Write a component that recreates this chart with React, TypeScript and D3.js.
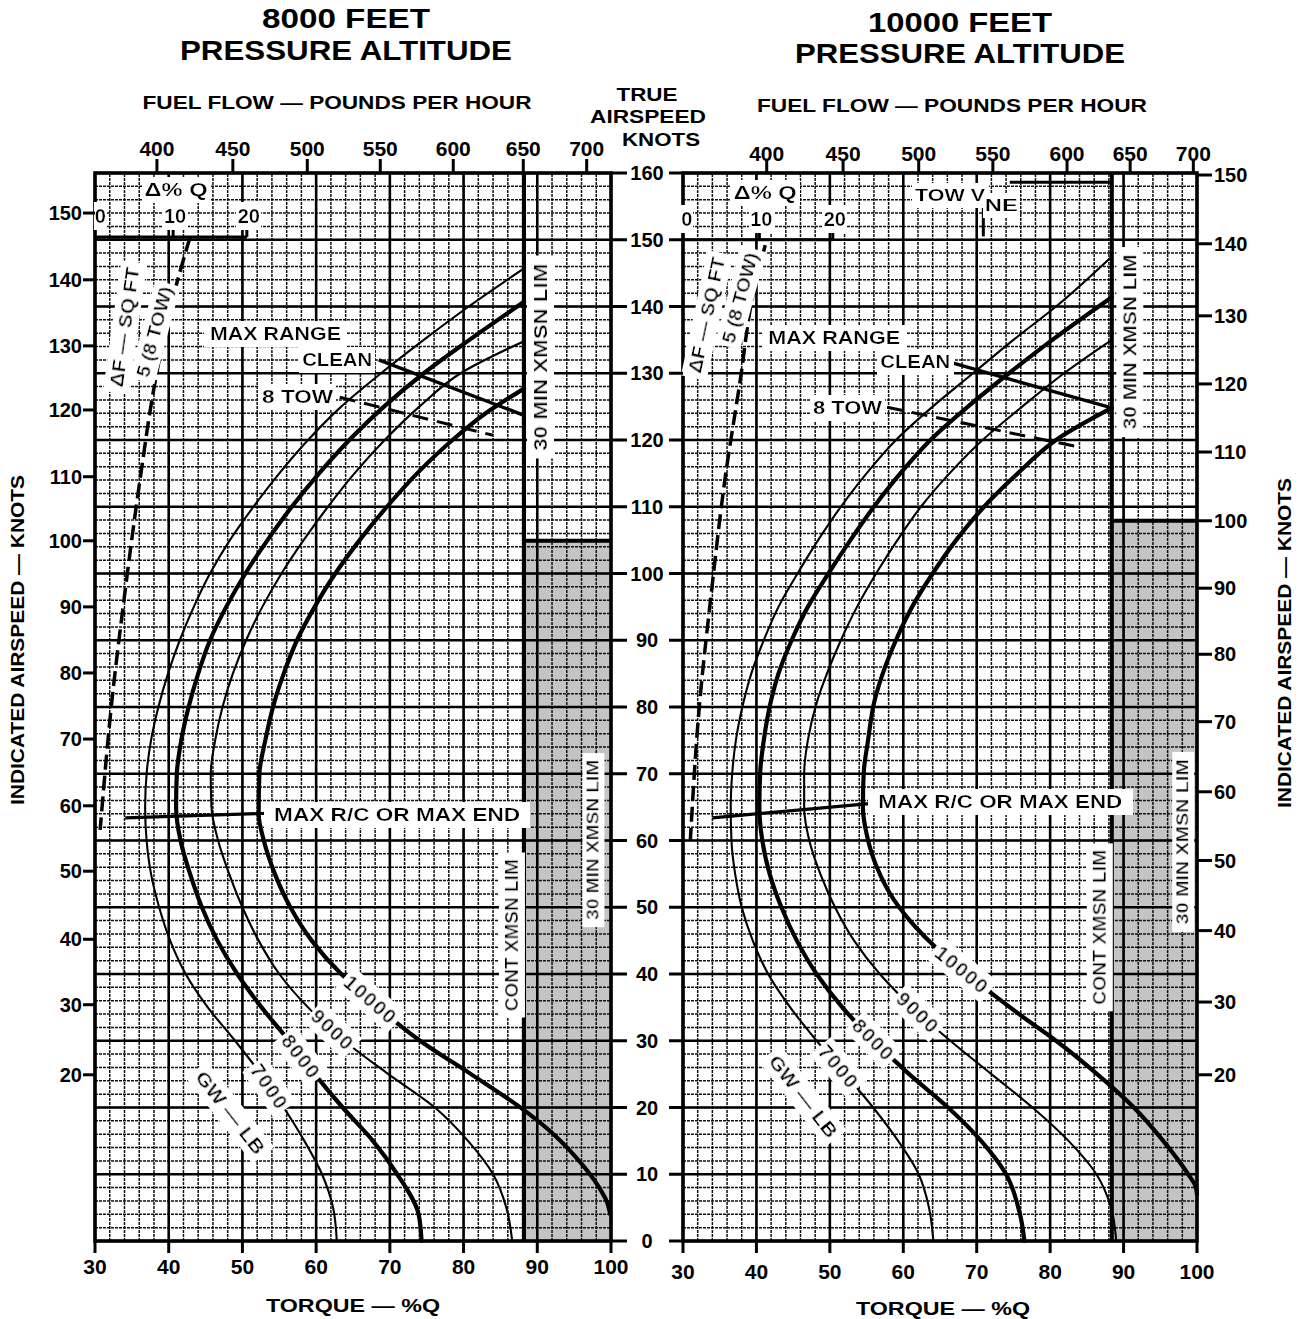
import React from "react";
import * as d3 from "d3";

const FONT = "'Liberation Sans', Arial, Helvetica, sans-serif";

// ---------------- shared axis values ----------------
const tasTicks = [0, 10, 20, 30, 40, 50, 60, 70, 80, 90, 100, 110, 120, 130, 140, 150, 160];
const torqueTicks = [30, 40, 50, 60, 70, 80, 90, 100];
const fuelFlowTicks = [400, 450, 500, 550, 600, 650, 700];
const iasTicks = [20, 30, 40, 50, 60, 70, 80, 90, 100, 110, 120, 130, 140, 150];
const dqTicks = [0, 10, 20];

// ---------------- 8000 ft pressure altitude ----------------
// fuel flow tick -> torque (%Q)
const fuelTorque8000 = [38.4, 48.7, 58.8, 68.7, 78.6, 88.1, 96.7];
// indicated airspeed tick -> true airspeed (kt)
const iasTas8000 = [24.9, 35.4, 45.2, 55.4, 65.2, 75.2, 85.1, 95.0, 104.9, 114.5, 124.5, 134.1, 144.0, 154.0];
// gross weight curves: [true airspeed, torque]
const gw7000At8000 = [[0, 62.8], [5, 62.3], [10, 60.8], [15, 58.4], [20, 55.6], [25, 52.5], [30, 49.0], [35, 45.3], [40, 42.3], [45, 40.2], [50, 38.7], [55, 37.6], [60, 37.0], [65, 36.8], [70, 37.0], [75, 37.6], [80, 38.6], [85, 39.9], [90, 41.5], [95, 43.4], [100, 45.6], [105, 48.3], [110, 51.5], [115, 55.0], [120, 58.9], [125, 63.4], [130, 68.8], [135, 74.6], [140, 80.7], [145.7, 88.2]];
const gw8000At8000 = [[0, 74.3], [4, 73.9], [10, 71.0], [15, 67.7], [20, 63.6], [25, 59.8], [30, 56.3], [35, 52.6], [40, 49.3], [45, 46.6], [50, 44.5], [55, 42.9], [60, 41.6], [65, 41.0], [70, 41.1], [75, 41.7], [80, 42.7], [85, 44.0], [90, 45.6], [95, 47.8], [100, 50.4], [105, 53.4], [110, 56.7], [115, 60.4], [120, 64.5], [125, 69.2], [130, 74.6], [135, 80.8], [140.7, 88.2]];
const gw9000At8000 = [[0, 86.6], [5, 85.8], [10, 84.0], [15, 80.6], [20, 76.1], [25, 69.8], [30, 63.8], [35, 58.9], [40, 55.0], [45, 52.2], [50, 50.0], [55, 48.2], [60, 46.7], [65, 45.8], [70, 45.7], [75, 46.3], [80, 47.3], [85, 48.7], [90, 50.5], [95, 52.7], [100, 55.3], [105, 58.3], [110, 61.6], [115, 65.2], [120, 69.3], [125, 74.0], [130, 79.6], [134.8, 88.2]];
const gw10000At8000 = [[4, 99.9], [6, 99.4], [8, 98.4], [12.6, 95.2], [16, 92.2], [19.6, 88.2], [25, 81.0], [30, 74.1], [32, 71.7], [36, 67.5], [40, 63.4], [45, 59.4], [50, 56.5], [55, 54.4], [60, 52.9], [64, 52.2], [70, 52.3], [75, 53.1], [81, 54.4], [85, 55.6], [90, 57.4], [95, 59.8], [100, 62.6], [105, 65.9], [110, 69.6], [115, 73.7], [120, 78.5], [124, 83.0], [127.7, 88.2]];
const dfLine8000 = [[61.6, 30.7], [81, 32.3], [97.5, 34.1], [114, 36.1], [129, 38.2], [141, 40.5], [150.4, 42.9]];
const maxRc8000 = [[63.4, 34.1], [64.1, 54.2]];
const clean8000 = [[132.0, 68.5], [123.7, 88.2]];
const tow8000 = [[126.4, 63.2], [120.7, 84.0]];

// ---------------- 10000 ft pressure altitude ----------------
const fuelTorque10000 = [41.4, 51.8, 62.1, 72.2, 82.3, 90.9, 99.5];
const iasTas10000 = [24.9, 35.8, 46.5, 57.0, 67.3, 77.8, 87.9, 97.8, 107.9, 118.2, 128.4, 138.6, 149.4, 159.7];
const gw7000At10000 = [[0, 64.1], [5, 63.5], [10, 62.1], [15, 59.3], [20, 55.9], [26, 51.3], [30, 48.2], [35, 44.6], [40, 41.6], [45, 39.5], [50, 38.0], [55, 37.1], [60, 36.6], [65, 36.5], [70, 36.7], [75, 37.2], [81, 38.3], [85, 39.3], [90, 41.0], [95, 43.0], [100, 45.6], [105, 48.4], [110, 51.5], [115, 55.0], [120, 59.0], [125, 64.0], [130, 69.5], [135, 75.0], [140, 80.8], [147.5, 88.4]];
const gw8000At10000 = [[0, 76.5], [4, 75.9], [10, 74.0], [15, 70.6], [20, 66.1], [25, 60.8], [30, 56.0], [35, 51.7], [40, 48.2], [45, 45.5], [50, 43.4], [55, 41.8], [60, 40.8], [65, 40.4], [70, 40.5], [75, 41.0], [81, 42.0], [85, 43.0], [90, 44.8], [95, 47.0], [100, 49.8], [105, 52.8], [110, 56.0], [115, 59.6], [120, 63.7], [125, 68.8], [130, 74.4], [135, 80.3], [141.4, 88.4]];
const gw9000At10000 = [[0, 89.0], [5, 88.3], [10, 86.3], [15, 82.5], [20, 77.6], [25, 72.0], [30, 66.4], [34, 62.2], [40, 56.8], [45, 53.3], [50, 50.7], [55, 48.7], [60, 47.2], [65, 46.5], [70, 46.5], [75, 47.0], [81, 48.3], [85, 49.6], [90, 51.5], [95, 53.7], [100, 56.3], [105, 59.2], [110, 62.4], [115, 66.3], [120, 70.8], [125, 76.2], [130, 81.9], [135, 88.4]];
const gw10000At10000 = [[7, 100], [8.2, 99.8], [10, 98.8], [15, 95.4], [20, 91.4], [25, 86.4], [30, 80.8], [33, 77.0], [37.2, 71.9], [40.6, 68.0], [44, 64.4], [47, 61.7], [51, 58.8], [56, 56.4], [61, 55.0], [65, 54.5], [70, 54.6], [75, 55.2], [81, 56.1], [85, 57.2], [90, 59.0], [95, 61.2], [100, 64.0], [105, 67.2], [110, 71.0], [115, 75.6], [120, 80.8], [124.8, 88.4]];
const dfLine10000 = [[60.1, 31.0], [81, 32.3], [97.5, 33.9], [114, 35.7], [129, 37.8], [141, 39.4], [149.2, 41.2]];
const maxRc10000 = [[63.4, 34.0], [65.6, 56.1]];
const clean10000 = [[131.5, 66.8], [124.8, 88.4]];
const tow10000 = [[124.9, 57.8], [118.9, 84.1]];

// ---------------- layout ----------------
const y = d3.scaleLinear().domain([0, 160]).range([1241, 173]);

const panels = [
  {
    id: "a",
    range: [95, 611],
    fuelTorque: fuelTorque8000,
    iasTas: iasTas8000,
    iasSide: "left",
    curves: [
      { gw: "7000", pts: gw7000At8000, thick: false, labelTas: 23.1 },
      { gw: "8000", pts: gw8000At8000, thick: true, labelTas: 27.6 },
      { gw: "9000", pts: gw9000At8000, thick: false, labelTas: 31.6 },
      { gw: "10000", pts: gw10000At8000, thick: true, labelTas: 36.1 },
    ],
    df: dfLine8000, maxRc: maxRc8000, clean: clean8000, tow: tow8000,
    limTorque: 88.2, limIasTas: 104.9, dq0: 30.6, dqTas: 150.4,
    lab: {
      maxRange: [45.6, 135.9, 131], clean: [67.6, 132.0, 70], tow: [62.3, 126.4, 71],
      maxRcText: [54.3, 63.8, 246], cont: [86.6, 45.8, 152], thirtyTop: [90.4, 132.4, 187],
      thirtyBot: [97.6, 60.1, 160], dF: [34.1, 136.9, 121, -82], five: [38.1, 136.2, 93, -75],
      dq: [41.0, 157.5, 63], gwlb: [48.3, 19.2, 100, 52],
    },
    tickLabelDy: 0,
  },
  {
    id: "b",
    range: [683, 1197],
    fuelTorque: fuelTorque10000,
    iasTas: iasTas10000,
    iasSide: "right",
    curves: [
      { gw: "7000", pts: gw7000At10000, thick: false, labelTas: 26.1 },
      { gw: "8000", pts: gw8000At10000, thick: true, labelTas: 30.1 },
      { gw: "9000", pts: gw9000At10000, thick: false, labelTas: 34.2 },
      { gw: "10000", pts: gw10000At10000, thick: true, labelTas: 40.6 },
    ],
    df: dfLine10000, maxRc: maxRc10000, clean: clean10000, tow: tow10000,
    limTorque: 88.4, limIasTas: 107.9, dq0: 30.4, dqTas: 150,
    lab: {
      maxRange: [41.6, 135.3, 132], clean: [66.4, 131.7, 70], tow: [57.1, 124.8, 69],
      maxRcText: [56.6, 65.8, 244], cont: [86.8, 47.0, 155], thirtyTop: [90.9, 134.7, 175],
      thirtyBot: [98.1, 59.8, 165], dF: [33.3, 138.7, 118, -78], five: [37.8, 141.3, 93, -75],
      dq: [41.2, 157.0, 63], gwlb: [46.4, 21.7, 99, 52],
    },
    tickLabelDy: 5,
  },
];

function Txt(props: any) {
  const { x, y: yy, text, size = 18, anchor = "middle", rotate = 0, len, ko = false, ls } = props;
  return (
    <text
      x={x}
      y={yy}
      fontSize={size}
      textAnchor={anchor}
      dominantBaseline="central"
      transform={rotate ? `rotate(${rotate} ${x} ${yy})` : undefined}
      textLength={len}
      lengthAdjust={len ? "spacingAndGlyphs" : undefined}
      filter={ko ? "url(#ko)" : undefined}
      letterSpacing={ls}
    >
      {text}
    </text>
  );
}

function Panel({ c }: any) {
  const x = d3.scaleLinear().domain([30, 100]).range(c.range);
  const line = d3
    .line<number[]>()
    .x((d) => x(d[1]))
    .y((d) => y(d[0]))
    .curve(d3.curveMonotoneY);
  const straight = d3
    .line<number[]>()
    .x((d) => x(d[1]))
    .y((d) => y(d[0]));
  const minorV = d3.range(30, 100.001, 2);
  const minorH = d3.range(0, 160.001, 2);
  const majorV = d3.range(30, 100.001, 10);
  const majorH = d3.range(0, 160.001, 10);
  const x0 = x(30), x1 = x(100), yb = y(0), yt = y(160);
  const L = c.lab;

  const curveLabel = (cv: any) => {
    const pts = cv.pts;
    const f = d3.scaleLinear().domain(pts.map((p: number[]) => p[0])).range(pts.map((p: number[]) => p[1]));
    const t = cv.labelTas;
    const ax = x(f(t + 1.5)), ay = y(t + 1.5), bx = x(f(t - 1.5)), by = y(t - 1.5);
    const ang = (Math.atan2(by - ay, bx - ax) * 180) / Math.PI;
    return (
      <Txt key={"cl" + cv.gw} x={x(f(t))} y={y(t)} text={cv.gw} size={20} rotate={ang} ko ls={1.5} />
    );
  };

  return (
    <g>
      {/* shaded 30-minute zone */}
      <rect x={x(c.limTorque)} y={y(c.limIasTas)} width={x(100) - x(c.limTorque)} height={yb - y(c.limIasTas)} fill="#c4c4c4" />
      {/* grid */}
      {minorV.map((t) => (
        <line key={"mv" + t} x1={x(t)} x2={x(t)} y1={yb} y2={yt} stroke="#111" strokeWidth={1.5} strokeDasharray="3 1" />
      ))}
      {minorH.map((t) => (
        <line key={"mh" + t} x1={x0} x2={x1} y1={y(t)} y2={y(t)} stroke="#111" strokeWidth={1.5} strokeDasharray="3 1" />
      ))}
      {majorV.map((t) => (
        <line key={"Mv" + t} x1={x(t)} x2={x(t)} y1={yb} y2={yt} stroke="#000" strokeWidth={2.6} />
      ))}
      {majorH.map((t) => (
        <line key={"Mh" + t} x1={x0} x2={x1} y1={y(t)} y2={y(t)} stroke="#000" strokeWidth={2.6} />
      ))}
      <rect x={x0} y={yt} width={x1 - x0} height={yb - yt} fill="none" stroke="#000" strokeWidth={3.5} />
      {/* transmission limits */}
      <line x1={x(c.limTorque)} x2={x(c.limTorque)} y1={yb} y2={yt} stroke="#000" strokeWidth={4} />
      <line x1={x(c.limTorque)} x2={x1} y1={y(c.limIasTas)} y2={y(c.limIasTas)} stroke="#000" strokeWidth={4} />

      {/* gross weight curves */}
      {c.curves.map((cv: any) => (
        <path
          key={"c" + cv.gw}
          d={line(cv.pts.slice().sort((a: number[], b: number[]) => b[0] - a[0])) || ""}
          fill="none"
          stroke="#000"
          strokeWidth={cv.thick ? 4.2 : 2.1}
          strokeLinecap="round"
        />
      ))}
      {/* drag change line */}
      <path d={line(c.df.slice().sort((a: number[], b: number[]) => b[0] - a[0])) || ""} fill="none" stroke="#000" strokeWidth={3.5} strokeDasharray="15 6" />
      {/* max R/C, max range lines */}
      <path d={straight(c.maxRc) || ""} fill="none" stroke="#000" strokeWidth={3.2} />
      <path d={straight(c.clean) || ""} fill="none" stroke="#000" strokeWidth={3.4} />
      <path d={straight(c.tow) || ""} fill="none" stroke="#000" strokeWidth={3} strokeDasharray="16 9" />

      {/* delta Q scale */}
      <line x1={x0} x2={x(c.dq0 + 20)} y1={y(c.dqTas)} y2={y(c.dqTas)} stroke="#000" strokeWidth={3.2} />
      {dqTicks.map((d) =>
        d > 0 ? (
          <line key={"dqt" + d} x1={x(c.dq0 + d)} x2={x(c.dq0 + d)} y1={y(c.dqTas)} y2={y(c.dqTas) - 10} stroke="#000" strokeWidth={3} />
        ) : null
      )}
      {dqTicks.map((d) => (
        <Txt key={"dql" + d} x={x(c.dq0 + d) + (d === 0 ? 1 : 2)} y={y(c.dqTas) - 21} text={String(d)} size={20} ko />
      ))}
      <Txt x={x(L.dq[0])} y={y(L.dq[1])} text="Δ% Q" size={18} len={L.dq[2]} ko />

      {/* labels */}
      {c.curves.map(curveLabel)}
      <Txt x={x(L.gwlb[0])} y={y(L.gwlb[1])} text="GW — LB" size={19} len={L.gwlb[2]} rotate={L.gwlb[3]} ko />
      <Txt x={x(L.maxRange[0])} y={y(L.maxRange[1])} text="MAX RANGE" size={18} anchor="start" len={L.maxRange[2]} ko />
      <Txt x={x(L.clean[0])} y={y(L.clean[1])} text="CLEAN" size={18} anchor="end" len={L.clean[2]} ko />
      <Txt x={x(L.tow[0])} y={y(L.tow[1])} text="8 TOW" size={18} anchor="end" len={L.tow[2]} ko />
      <Txt x={x(L.maxRcText[0])} y={y(L.maxRcText[1])} text="MAX R/C OR MAX END" size={18} anchor="start" len={L.maxRcText[2]} ko />
      <Txt x={x(L.cont[0])} y={y(L.cont[1])} text="CONT XMSN LIM" size={18} rotate={-90} len={L.cont[2]} ko />
      <Txt x={x(L.thirtyTop[0])} y={y(L.thirtyTop[1])} text="30 MIN XMSN LIM" size={19} rotate={-90} len={L.thirtyTop[2]} ko />
      <Txt x={x(L.thirtyBot[0])} y={y(L.thirtyBot[1])} text="30 MIN XMSN LIM" size={16} rotate={-90} len={L.thirtyBot[2]} ko />
      <Txt x={x(L.dF[0])} y={y(L.dF[1])} text="ΔF — SQ FT" size={18} rotate={L.dF[3]} len={L.dF[2]} ko />
      <Txt x={x(L.five[0])} y={y(L.five[1])} text="5 (8 TOW)" size={18} rotate={L.five[3]} len={L.five[2]} ko />

      {/* top fuel flow axis */}
      {fuelFlowTicks.map((f, i) => (
        <g key={"ff" + f}>
          <line x1={x(c.fuelTorque[i])} x2={x(c.fuelTorque[i])} y1={yt} y2={yt - 14} stroke="#000" strokeWidth={3} />
          <Txt x={x(c.fuelTorque[i])} y={yt - 25 + c.tickLabelDy} text={String(f)} size={21} />
        </g>
      ))}
      {/* bottom torque axis */}
      {torqueTicks.map((t) => (
        <g key={"tq" + t}>
          <line x1={x(t)} x2={x(t)} y1={yb} y2={yb + 12} stroke="#000" strokeWidth={3} />
          <Txt x={x(t)} y={yb + 25 + c.tickLabelDy} text={String(t)} size={21} />
        </g>
      ))}
      {/* indicated airspeed axis */}
      {iasTicks.map((v, i) =>
        c.iasSide === "left" ? (
          <g key={"ias" + v}>
            <line x1={x0 - 12} x2={x0} y1={y(c.iasTas[i])} y2={y(c.iasTas[i])} stroke="#000" strokeWidth={3} />
            <Txt x={x0 - 13} y={y(c.iasTas[i])} text={String(v)} size={20} anchor="end" />
          </g>
        ) : (
          <g key={"ias" + v}>
            <line x1={x1} x2={x1 + 15} y1={y(c.iasTas[i])} y2={y(c.iasTas[i])} stroke="#000" strokeWidth={3} />
            <Txt x={x1 + 17} y={y(c.iasTas[i])} text={String(v)} size={20} anchor="start" />
          </g>
        )
      )}
    </g>
  );
}

export default function App() {
  const xa = d3.scaleLinear().domain([30, 100]).range(panels[0].range);
  const xb = d3.scaleLinear().domain([30, 100]).range(panels[1].range);
  const xm = (xa(100) + xb(30)) / 2;
  return (
    <svg
      width={1299}
      height={1319}
      viewBox="0 0 1299 1319"
      style={{ position: "absolute", left: 0, top: 0, background: "#fff" }}
      fontFamily={FONT}
      fontWeight="bold"
    >
      <defs>
        <filter id="ko" x="-0.04" y="-0.12" width="1.08" height="1.24">
          <feFlood floodColor="#ffffff" result="bg" />
          <feMerge>
            <feMergeNode in="bg" />
            <feMergeNode in="SourceGraphic" />
          </feMerge>
        </filter>
      </defs>
      <rect width={1299} height={1319} fill="#fff" />
      {panels.map((p) => (
        <Panel key={p.id} c={p} />
      ))}

      {/* TOW VNE marker (10000 ft) */}
      <line x1={xb(70.9)} x2={xb(70.9)} y1={y(155.3)} y2={y(150.5)} stroke="#000" strokeWidth={3} />
      <line x1={xb(74.5)} x2={xb(88.4)} y1={y(158.6)} y2={y(158.6)} stroke="#000" strokeWidth={3} />
      <Txt x={xb(61.6)} y={y(156.6)} text="TOW V" size={17} anchor="start" len={70} ko />
      <Txt x={xb(71.1)} y={y(155.1)} text="NE" size={17} anchor="start" len={33} ko />

      {/* central true airspeed axis */}
      {tasTicks.map((t) => (
        <g key={"tas" + t}>
          <line x1={xa(100)} x2={xa(100) + 16} y1={y(t)} y2={y(t)} stroke="#000" strokeWidth={3} />
          <line x1={xb(30) - 14} x2={xb(30)} y1={y(t)} y2={y(t)} stroke="#000" strokeWidth={3} />
          <Txt x={xm} y={y(t)} text={String(t)} size={20} />
        </g>
      ))}

      {/* titles */}
      <Txt x={346} y={18} text="8000 FEET" size={28} len={168} />
      <Txt x={346} y={50} text="PRESSURE ALTITUDE" size={28} len={332} />
      <Txt x={960} y={22} text="10000 FEET" size={28} len={184} />
      <Txt x={960} y={53} text="PRESSURE ALTITUDE" size={28} len={330} />
      <Txt x={337} y={103} text="FUEL FLOW — POUNDS PER HOUR" size={18} len={389} />
      <Txt x={952} y={106} text="FUEL FLOW — POUNDS PER HOUR" size={18} len={390} />
      <Txt x={647} y={95} text="TRUE" size={18} len={61} />
      <Txt x={648} y={117} text="AIRSPEED" size={18} len={116} />
      <Txt x={661} y={140} text="KNOTS" size={18} len={78} />
      <Txt x={353} y={1306} text="TORQUE — %Q" size={18} len={174} />
      <Txt x={943} y={1309} text="TORQUE — %Q" size={18} len={174} />
      <Txt x={18} y={640} text="INDICATED AIRSPEED — KNOTS" size={18} rotate={-90} len={330} />
      <Txt x={1285} y={643} text="INDICATED AIRSPEED — KNOTS" size={18} rotate={-90} len={330} />
    </svg>
  );
}
